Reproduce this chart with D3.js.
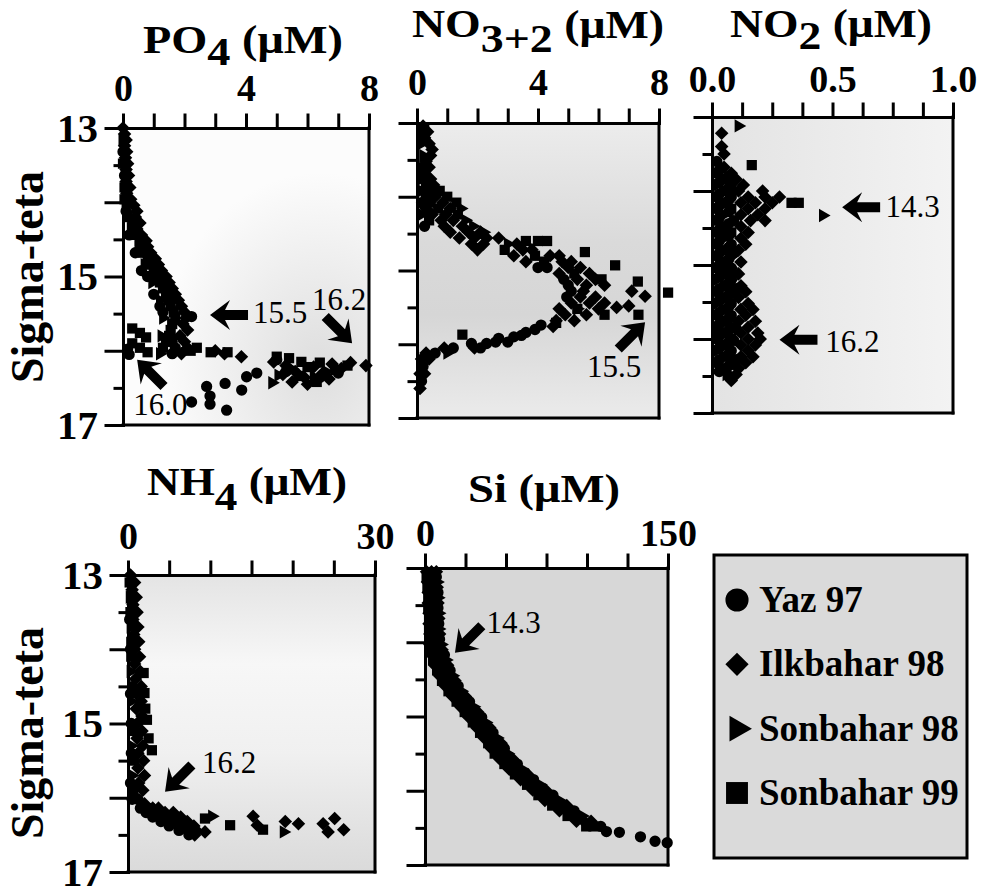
<!DOCTYPE html>
<html>
<head>
<meta charset="utf-8">
<script src="https://cdn.jsdelivr.net/npm/d3@7"></script>
<style>
  body { margin: 0; background: #fff; }
  svg { display: block; }
  text { font-family: "Liberation Serif", "Times New Roman", serif; }
</style>
</head>
<body>
<div id="chart"></div>
<script>
// ---- data: [concentration, sigma-theta] ----
var seriesNames = ["Yaz 97", "Ilkbahar 98", "Sonbahar 98", "Sonbahar 99"];

var po4Yaz97 = [[0.0,13.32],[0.05,13.64],[0.1,14.12],[0.2,14.44],[0.4,14.68],[0.6,14.92],[0.8,15.0],[1.0,15.24],[1.2,15.4],[1.3,15.48],[2.23,15.54],[1.6,15.88],[1.7,15.96],[1.6,16.04],[0.15,15.98],[0.2,16.05],[2.23,16.69],[2.72,16.48],[2.83,16.61],[2.83,16.72],[3.32,16.44],[3.37,16.8],[3.86,16.53],[4.02,16.35],[4.35,16.3],[5.0,16.12],[5.3,16.28],[6.4,16.36],[7.0,16.3]];
var po4Ilk98 = [[0.0,13.0],[0.05,13.08],[0.1,13.16],[0.05,13.24],[0.12,13.32],[0.08,13.4],[0.15,13.48],[0.1,13.56],[0.18,13.64],[0.1,13.72],[0.22,13.8],[0.12,13.88],[0.25,13.96],[0.35,14.04],[0.45,14.12],[0.4,14.2],[0.55,14.28],[0.45,14.36],[0.6,14.44],[0.75,14.52],[0.8,14.6],[0.9,14.68],[1.05,14.76],[1.15,14.84],[1.25,14.92],[1.4,15.0],[1.5,15.08],[1.6,15.16],[1.7,15.24],[1.8,15.32],[1.9,15.4],[2.0,15.48],[2.05,15.56],[1.95,15.64],[2.1,15.72],[1.85,15.8],[2.0,15.88],[2.1,15.96],[1.9,16.04],[3.0,16.0],[3.3,16.04],[3.85,16.08],[4.9,16.15],[5.3,16.2],[5.6,16.28],[5.9,16.36],[6.2,16.22],[6.5,16.3],[6.8,16.18],[7.1,16.24],[7.4,16.16],[7.9,16.2],[5.5,16.42],[6.0,16.45],[6.7,16.38],[5.2,16.32]];
var po4Son98 = [[0.05,13.56],[0.08,14.04],[0.25,14.36],[0.5,14.6],[0.7,14.84],[0.95,15.08],[1.2,15.32],[1.3,15.56],[1.25,15.8],[1.2,16.04],[4.85,16.43],[5.05,16.33],[5.5,16.25],[6.2,16.35],[6.6,16.28]];
var po4Son99 = [[0.02,13.16],[0.0,13.48],[0.05,13.8],[0.05,13.96],[0.15,14.2],[0.3,14.28],[0.35,14.44],[0.55,14.52],[0.65,14.68],[0.8,14.76],[0.9,14.84],[1.0,14.92],[1.1,15.0],[1.2,15.08],[1.3,15.16],[1.4,15.24],[1.5,15.32],[1.55,15.4],[1.65,15.48],[1.7,15.56],[1.6,15.64],[1.55,15.72],[1.5,15.8],[1.4,15.88],[1.3,15.96],[0.3,15.7],[0.55,15.76],[0.75,15.82],[0.3,15.9],[0.55,15.96],[0.8,16.02],[2.4,15.96],[2.2,16.0],[2.85,16.02],[3.4,16.02],[5.0,16.08],[5.4,16.1],[5.8,16.15],[6.0,16.22],[6.4,16.16],[6.9,16.26],[7.3,16.2],[5.7,16.34],[6.3,16.42]];

var no3Yaz97 = [[0.2,13.6],[0.15,14.08],[0.25,14.4],[4.0,14.96],[4.3,14.96],[4.85,15.12],[5.0,15.2],[5.1,15.28],[4.95,15.36],[4.1,15.74],[3.6,15.84],[3.9,15.8],[3.2,15.9],[3.45,15.88],[2.7,15.92],[3.0,15.97],[2.6,15.97],[2.3,15.99],[1.8,15.99],[2.1,16.05],[1.2,16.05],[0.6,16.12],[0.2,16.3],[0.15,16.5]];
var no3Ilk98 = [[0.2,13.04],[0.35,13.12],[0.25,13.2],[0.4,13.28],[0.5,13.36],[0.45,13.44],[0.3,13.52],[0.4,13.6],[0.25,13.68],[0.45,13.76],[0.55,13.84],[0.4,13.92],[0.6,14.0],[0.85,14.08],[0.3,14.16],[1.1,14.16],[0.5,14.24],[0.95,14.24],[0.8,14.32],[1.2,14.32],[0.9,14.4],[1.5,14.4],[1.1,14.48],[1.7,14.48],[2.1,14.48],[1.4,14.56],[1.9,14.56],[2.3,14.56],[2.7,14.56],[1.8,14.64],[2.2,14.64],[3.3,14.64],[2.0,14.72],[3.5,14.72],[3.8,14.72],[3.2,14.8],[4.4,14.8],[4.7,14.8],[3.6,14.88],[4.8,14.88],[5.1,14.88],[5.0,14.96],[5.4,14.96],[4.7,15.04],[5.7,15.04],[5.3,15.12],[5.9,15.12],[5.6,15.2],[6.2,15.2],[5.5,15.28],[7.1,15.28],[5.4,15.36],[5.9,15.36],[7.54,15.35],[5.1,15.44],[5.7,15.44],[6.2,15.44],[7.0,15.48],[4.7,15.52],[6.0,15.52],[6.6,15.5],[4.9,15.6],[5.6,15.6],[4.6,15.68],[5.2,15.68],[4.5,15.76],[1.9,16.05],[0.9,16.05],[0.3,16.12],[0.15,16.2],[0.4,16.2],[0.1,16.4],[0.25,16.4],[0.1,16.6]];
var no3Son98 = [[0.15,13.12],[0.15,13.28],[0.2,13.44],[0.15,13.76],[0.15,13.92],[0.25,14.0],[1.45,14.16],[0.15,14.24],[1.6,14.32],[1.85,14.4],[2.2,14.48],[3.0,14.64],[5.3,15.52],[1.0,16.12]];
var no3Son99 = [[0.3,13.52],[0.15,13.6],[0.3,13.84],[0.75,13.92],[1.0,14.0],[0.45,14.08],[1.3,14.08],[0.7,14.16],[1.35,14.24],[0.4,14.32],[2.9,14.72],[3.6,14.6],[4.0,14.6],[4.3,14.6],[3.9,14.8],[4.2,14.88],[5.55,14.75],[6.55,14.93],[5.2,15.04],[6.1,15.12],[7.3,15.15],[6.2,15.6],[5.3,15.52],[7.32,15.6],[4.6,15.71],[1.5,15.87],[8.3,15.3]];

var no2Yaz97 = [[0.02,13.6],[0.05,13.84],[0.08,13.92],[0.02,14.08],[0.08,14.08],[0.05,14.16],[0.02,14.24],[0.09,14.4],[0.05,14.48],[0.02,14.56],[0.02,14.72],[0.08,14.72],[0.02,14.88],[0.05,14.96],[0.08,15.04],[0.05,15.12],[0.08,15.2],[0.05,15.28],[0.02,15.36],[0.05,15.44],[0.08,15.52],[0.02,15.68],[0.08,15.68],[0.05,15.76],[0.02,15.92],[0.05,15.92],[0.02,16.0],[0.05,16.08],[0.08,16.16],[0.02,16.32],[0.05,16.4],
                [0.05,14.6],[0.09,14.84],[0.06,15.0],[0.1,15.32],[0.06,15.6],[0.1,15.86],[0.09,16.02],[0.1,16.28],[0.07,16.5],
                [0.03,13.72],[0.07,13.8],[0.03,13.88],[0.07,13.96],[0.03,14.04],[0.07,14.12],[0.03,14.2],[0.07,14.28],[0.03,14.36],[0.07,14.44],[0.03,14.52],[0.07,14.6],[0.03,14.68],[0.07,14.76],[0.03,14.84],[0.07,14.92],[0.03,15.0],[0.07,15.08],[0.03,15.16],[0.07,15.24],[0.03,15.32],[0.07,15.4],[0.03,15.48],[0.07,15.56],[0.03,15.64],[0.07,15.72],[0.03,15.8],[0.07,15.88],[0.03,15.96],[0.07,16.04],[0.03,16.12],[0.07,16.2],[0.03,16.28],[0.07,16.36],[0.03,16.44]];
var no2Ilk98 = [[0.04,13.22],[0.04,13.4],[0.05,13.5],[0.05,13.68],[0.08,13.76],[0.1,13.84],[0.13,13.92],[0.11,14.0],[0.21,14.0],[0.15,14.08],[0.22,14.08],[0.28,14.08],[0.12,14.16],[0.18,14.16],[0.25,14.16],[0.15,14.24],[0.22,14.24],[0.12,14.32],[0.19,14.32],[0.16,14.4],[0.22,14.4],[0.12,14.48],[0.15,14.56],[0.12,14.64],[0.14,14.72],[0.11,14.8],[0.08,14.88],[0.12,14.96],[0.08,15.04],[0.11,15.12],[0.08,15.2],[0.12,15.28],[0.14,15.36],[0.11,15.44],[0.15,15.52],[0.12,15.6],[0.17,15.6],[0.14,15.68],[0.11,15.76],[0.18,15.76],[0.15,15.84],[0.12,15.92],[0.19,15.92],[0.15,16.0],[0.2,16.0],[0.12,16.08],[0.18,16.08],[0.15,16.16],[0.12,16.24],[0.17,16.24],[0.14,16.32],[0.11,16.4],[0.1,16.48],[0.08,16.56]];
var no2Son98 = [[0.11,13.12],[0.46,14.33],[0.02,13.92],[0.05,14.32],[0.05,14.64],[0.02,15.2],[0.02,15.52],[0.02,15.84],[0.02,16.16],[0.06,16.48]];
var no2Son99 = [[0.165,13.65],[0.02,13.76],[0.05,14.0],[0.33,14.16],[0.36,14.16],[0.08,14.24],[0.02,14.4],[0.08,14.56],[0.05,14.8],[0.02,15.04],[0.08,15.36],[0.05,15.6],[0.08,15.84],[0.08,16.0],[0.05,16.24],[0.09,16.32]];

var nh4Yaz97 = [[0.2,13.6],[0.3,14.0],[0.3,14.6],[0.4,15.0],[0.4,15.4],[0.3,15.8],[0.5,16.02],[1.2,16.02],[1.5,16.14],[2.2,16.2],[3.0,16.26],[4.0,16.32],[5.0,16.38],[6.2,16.44],[7.3,16.44],[7.4,16.5]];
var nh4Ilk98 = [[0.3,13.0],[0.8,13.1],[0.5,13.2],[1.0,13.3],[0.6,13.4],[1.1,13.5],[0.6,13.6],[1.2,13.7],[0.7,13.8],[1.3,13.9],[0.8,14.0],[1.4,14.1],[0.8,14.2],[1.5,14.3],[0.9,14.4],[1.6,14.5],[1.0,14.6],[1.6,14.7],[1.0,14.8],[1.7,14.9],[1.1,15.0],[1.7,15.1],[1.1,15.2],[1.8,15.3],[1.2,15.4],[1.9,15.5],[1.2,15.6],[2.0,15.7],[1.3,15.8],[1.8,15.9],[1.0,16.0],[2.0,16.08],[3.0,16.14],[3.7,16.14],[4.5,16.2],[5.5,16.2],[5.3,16.26],[6.4,16.26],[6.2,16.32],[7.2,16.32],[7.2,16.38],[8.0,16.38],[8.3,16.44],[8.1,16.5],[9.35,16.46],[15.2,16.25],[15.7,16.37],[19.1,16.32],[20.7,16.35],[23.7,16.35],[25.1,16.28],[24.3,16.46],[26.2,16.43]];
var nh4Son98 = [[0.2,13.3],[0.3,13.7],[0.3,14.3],[0.4,14.7],[0.4,15.3],[0.5,15.7],[3.4,16.2],[10.2,16.25],[18.9,16.46]];
var nh4Son99 = [[0.2,13.1],[0.3,13.5],[0.4,13.9],[0.4,14.1],[1.9,14.32],[0.5,14.5],[2.0,14.59],[2.1,14.8],[2.3,14.95],[0.6,15.1],[2.5,15.2],[2.9,15.36],[0.7,15.5],[0.6,15.9],[2.6,16.14],[4.2,16.26],[5.2,16.32],[6.2,16.38],[9.35,16.28],[12.4,16.37],[16.4,16.43]];

var siYaz97 = [[7,13.12],[8,13.33],[8,13.54],[8.5,13.75],[9,13.96],[12,14.17],[15.5,14.38],[20.5,14.59],[27.5,14.8],[35,15.01],[42,15.22],[49,15.43],[57,15.64],[67,15.85],[79,16.06],[92,16.27],[108.5,16.48],[112,16.55],[120,16.56],[133,16.62],[142,16.68],[149.5,16.7]];
var siIlk98 = [[1,13.05],[1.5,13.19],[2,13.33],[2,13.47],[2.5,13.61],[2.5,13.75],[3,13.89],[3,14.03],[4,14.17],[6,14.31],[9,14.45],[12.5,14.59],[17,14.73],[22,14.87],[27,15.01],[32,15.15],[36.5,15.29],[41,15.43],[46,15.57],[52,15.71],[59,15.85],[66.5,15.99],[74,16.13],[83,16.27],[93.5,16.41],[7,13.05],[7.5,13.26],[8,13.47],[8.5,13.68],[9,13.89],[10.5,14.1],[14,14.31],[18.5,14.52],[25,14.73],[32.5,14.94],[40,15.15],[47,15.36],[54,15.57],[63.5,15.78],[74.5,15.99],[87.5,16.2],[102.5,16.41],
               [4,13.05],[4.5,13.19],[5,13.33],[5,13.47],[5.5,13.61],[5.5,13.75],[6,13.89],[6.5,14.03],[8,14.17],[10,14.31],[13,14.45],[16.5,14.59],[21,14.73],[26,14.87],[31,15.01],[36,15.15],[40.5,15.29],[45,15.43],[50,15.57],[56,15.71],[63,15.85],[70.5,15.99],[78.5,16.13],[87.5,16.27],[98,16.41]];
var siSon98 = [[4,13.1],[7.5,13.19],[8,13.4],[8.5,13.61],[8.5,13.82],[10,14.03],[13,14.24],[17,14.45],[22.5,14.66],[30,14.87],[37.5,15.08],[44.5,15.29],[51,15.5],[60,15.71],[71,15.92],[83,16.13],[97,16.34]];
var siSon99 = [[1,13.12],[1.5,13.26],[2,13.4],[2,13.54],[2.5,13.68],[2.5,13.82],[3,13.96],[3.5,14.1],[5,14.24],[7.5,14.38],[10.5,14.52],[14.5,14.66],[19.5,14.8],[24.5,14.94],[29.5,15.08],[34,15.22],[39,15.36],[43,15.5],[49,15.64],[55.5,15.78],[63,15.92],[70,16.06],[78.5,16.2],[88,16.34],[99.5,16.48],
               [4,13.12],[4.5,13.26],[5,13.4],[5,13.54],[5.5,13.68],[5.5,13.82],[6,13.96],[7,14.1],[9,14.24],[11.5,14.38],[14.5,14.52],[18.5,14.66],[23.5,14.8],[28.5,14.94],[33.5,15.08],[38,15.22],[43,15.36],[47,15.5],[53,15.64],[59.5,15.78],[67,15.92],[74.5,16.06],[83,16.2],[92.5,16.34],[104,16.48]];

// axis ticks and labels
var sigmaMajor = [13, 14, 15, 16, 17];
var sigmaMinor = [13.5, 14.5, 15.5, 16.5];
var sigmaLabels = [13, 15, 17];
var po4Ticks = [0, 1, 2, 3, 4, 5, 6, 7, 8], po4Labels = [0, 4, 8];
var no3Ticks = [0, 1, 2, 3, 4, 5, 6, 7, 8], no3Labels = [0, 4, 8];
var no2Ticks = [0, 0.125, 0.25, 0.375, 0.5, 0.625, 0.75, 0.875, 1], no2Labels = [0, 0.5, 1];
var nh4Ticks = [0, 5, 10, 15, 20, 25, 30], nh4Labels = [0, 30];
var siTicks = [0, 25, 50, 75, 100, 125, 150], siLabels = [0, 150];

// annotations (arrow tip / text start, in data units)
var po4Notes = [{ v: 2.83, s: 15.52, a: 180, t: "15.5", tv: 4.23, ts: 15.63 },
                { v: 7.45, s: 15.9, a: 45, t: "16.2", tv: 6.15, ts: 15.45 },
                { v: 0.46, s: 16.12, a: -135, t: "16.0", tv: 0.33, ts: 16.87 }];
var no3Notes = [{ v: 7.54, s: 15.7, a: -45, t: "15.5", tv: 5.62, ts: 16.44 }];
var no2Notes = [{ v: 0.54, s: 14.22, a: 180, t: "14.3", tv: 0.72, ts: 14.35 },
                { v: 0.28, s: 16.01, a: 180, t: "16.2", tv: 0.47, ts: 16.18 }];
var nh4Notes = [{ v: 4.5, s: 15.92, a: 135, t: "16.2", tv: 9.0, ts: 15.67 }];
var siNotes = [{ v: 18.5, s: 14.14, a: 135, t: "14.3", tv: 38, ts: 13.88 }];

var W = 983, H = 895;
var svg = d3.select("#chart").append("svg").attr("width", W).attr("height", H);
var defs = svg.append("defs");

function linGrad(id, x2, y2, stops) {
    var g = defs.append("linearGradient").attr("id", id)
        .attr("x1", 0).attr("y1", 0).attr("x2", x2).attr("y2", y2);
    stops.forEach(function (s) { g.append("stop").attr("offset", s[0]).attr("stop-color", s[1]); });
}
var rg = defs.append("radialGradient").attr("id", "bgPO4").attr("cx", 0.8).attr("cy", 0.8).attr("r", 0.65);
rg.append("stop").attr("offset", 0).attr("stop-color", "#dedede");
rg.append("stop").attr("offset", 1).attr("stop-color", "#fcfcfc");
linGrad("bgNO3", 0, 1, [[0, "#ececec"], [0.4, "#dadada"], [0.65, "#d6d6d6"], [1, "#ebebeb"]]);
linGrad("bgNO2", 1, 0, [[0, "#e3e3e3"], [1, "#f3f3f3"]]);
linGrad("bgNH4", 0, 1, [[0, "#e4e4e4"], [0.3, "#f7f7f7"], [0.6, "#f0f0f0"], [1, "#dadada"]]);

var fmtInt = d3.format("d"), fmt1 = d3.format(".1f");

var panels = [
    { series: [po4Yaz97, po4Ilk98, po4Son98, po4Son99], domain: [0, 8], ticks: po4Ticks, labels: po4Labels, fmt: fmtInt,
      left: 123, right: 369, top: 128, bottom: 425, gap: 27, yLab: true, bg: "url(#bgPO4)", notes: po4Notes,
      title: { x: 143, y: 53, len: 200, parts: [["PO", 0], ["4", 12], [" (\u03bcM)", -12]] } },
    { series: [no3Yaz97, no3Ilk98, no3Son98, no3Son99], domain: [0, 8], ticks: no3Ticks, labels: no3Labels, fmt: fmtInt,
      left: 417, right: 659, top: 123, bottom: 418, gap: 28, yLab: false, bg: "url(#bgNO3)", notes: no3Notes,
      title: { x: 412, y: 37, len: 252, parts: [["NO", 0], ["3+2", 15], [" (\u03bcM)", -14]] } },
    { series: [no2Yaz97, no2Ilk98, no2Son98, no2Son99], domain: [0, 1], ticks: no2Ticks, labels: no2Labels, fmt: fmt1,
      left: 712, right: 953, top: 117, bottom: 413, gap: 25, yLab: false, bg: "url(#bgNO2)", notes: no2Notes,
      title: { x: 730, y: 37, len: 202, parts: [["NO", 0], ["2", 12], [" (\u03bcM)", -12]] } },
    { series: [nh4Yaz97, nh4Ilk98, nh4Son98, nh4Son99], domain: [0, 30], ticks: nh4Ticks, labels: nh4Labels, fmt: fmtInt,
      left: 128, right: 375, top: 575, bottom: 872, gap: 26, yLab: true, bg: "url(#bgNH4)", notes: nh4Notes,
      title: { x: 147, y: 495, len: 200, parts: [["NH", 0], ["4", 15], [" (\u03bcM)", -15]] } },
    { series: [siYaz97, siIlk98, siSon98, siSon99], domain: [0, 150], ticks: siTicks, labels: siLabels, fmt: fmtInt,
      left: 425, right: 668, top: 568, bottom: 865, gap: 22, yLab: false, bg: "#d7d7d7", notes: siNotes,
      title: { x: 468, y: 502, len: 152, parts: [["Si (\u03bcM)", 0]] } }
];

// marker shapes: circle, diamond, right triangle, square
var shapes = [
    { type: d3.symbolCircle, size: 100, rot: 0, legend: 420 },
    { type: d3.symbolSquare, size: 92, rot: 45, legend: 270 },
    { type: d3.symbolTriangle, size: 78, rot: 90, legend: 290 },
    { type: d3.symbolSquare, size: 105, rot: 0, legend: 480 }
];

var arrowPath = "M0,0 L-20,-15 L-15,-5 L-38,-5 L-38,5 L-15,5 L-20,15 Z";

function styleAxis(sel, size) {
    sel.selectAll("path, line").attr("stroke", "#000").attr("stroke-width", 3).attr("stroke-linecap", "square");
    sel.selectAll("text").attr("fill", "#000").style("font-size", size + "px").style("font-weight", "bold");
}

panels.forEach(function (p) {
    var x = d3.scaleLinear().domain(p.domain).range([p.left, p.right]);
    var y = d3.scaleLinear().domain([13, 17]).range([p.top, p.bottom]);
    var g = svg.append("g");

    g.append("rect")
        .attr("x", p.left).attr("y", p.top)
        .attr("width", p.right - p.left).attr("height", p.bottom - p.top)
        .attr("fill", p.bg);

    // top axis
    var isLab = function (d) { return p.labels.some(function (l) { return Math.abs(l - d) < 1e-9; }); };
    g.append("g")
        .attr("transform", "translate(0," + p.top + ")")
        .call(d3.axisTop(x).tickValues(p.ticks).tickSize(13).tickSizeOuter(0)
            .tickPadding(p.gap - 13)
            .tickFormat(function (d) { return isLab(d) ? p.fmt(d) : ""; }))
        .call(styleAxis, 38);

    // left axis, major + minor
    g.append("g")
        .attr("transform", "translate(" + p.left + ",0)")
        .call(d3.axisLeft(y).tickValues(sigmaMajor).tickSize(17).tickSizeOuter(0).tickPadding(8)
            .tickFormat(function (d) { return p.yLab && sigmaLabels.indexOf(d) >= 0 ? d : ""; }))
        .call(styleAxis, 41);
    g.append("g")
        .attr("transform", "translate(" + p.left + ",0)")
        .call(d3.axisLeft(y).tickValues(sigmaMinor).tickSize(8).tickSizeOuter(0).tickFormat(""))
        .call(styleAxis, 41);

    // right and bottom frame
    g.append("line").attr("x1", p.right).attr("x2", p.right).attr("y1", p.top).attr("y2", p.bottom)
        .attr("stroke", "#000").attr("stroke-width", 3).attr("stroke-linecap", "square");
    g.append("line").attr("x1", p.left).attr("x2", p.right).attr("y1", p.bottom).attr("y2", p.bottom)
        .attr("stroke", "#000").attr("stroke-width", 3).attr("stroke-linecap", "square");

    // points
    p.series.forEach(function (data, i) {
        var sh = shapes[i];
        g.append("g").selectAll("path")
            .data(data)
            .enter()
            .append("path")
            .attr("d", d3.symbol().type(sh.type).size(sh.size))
            .attr("transform", function (d) {
                return "translate(" + x(d[0]) + "," + y(d[1]) + ") rotate(" + sh.rot + ")";
            })
            .attr("fill", "#000");
    });

    // arrows + labels
    p.notes.forEach(function (n) {
        g.append("path")
            .attr("d", arrowPath)
            .attr("transform", "translate(" + x(n.v) + "," + y(n.s) + ") rotate(" + n.a + ")")
            .attr("fill", "#000");
        g.append("text")
            .attr("x", x(n.tv)).attr("y", y(n.ts))
            .style("font-size", "31px")
            .text(n.t);
    });

    // title with subscript
    var t = g.append("text")
        .attr("x", p.title.x).attr("y", p.title.y)
        .attr("textLength", p.title.len).attr("lengthAdjust", "spacingAndGlyphs")
        .style("font-size", "40px").style("font-weight", "bold");
    p.title.parts.forEach(function (part) {
        t.append("tspan").attr("dy", part[1]).text(part[0]);
    });
});

// y axis titles
[277, 733].forEach(function (cy) {
    svg.append("text")
        .attr("transform", "translate(43," + cy + ") rotate(-90)")
        .attr("text-anchor", "middle")
        .style("font-size", "46px").style("font-weight", "bold")
        .text("Sigma-teta");
});

// legend
var legend = svg.append("g");
legend.append("rect")
    .attr("x", 714).attr("y", 555).attr("width", 253).attr("height", 303)
    .attr("fill", "#dadada").attr("stroke", "#000").attr("stroke-width", 3);
var legY = d3.scalePoint().domain(seriesNames).range([600, 793]);
seriesNames.forEach(function (name, i) {
    var sh = shapes[i];
    legend.append("path")
        .attr("d", d3.symbol().type(sh.type).size(sh.legend))
        .attr("transform", "translate(737," + legY(name) + ") rotate(" + sh.rot + ")")
        .attr("fill", "#000");
    legend.append("text")
        .attr("x", 759).attr("y", legY(name) + 12)
        .style("font-size", "37px").style("font-weight", "bold")
        .text(name);
});
</script>
</body>
</html>
